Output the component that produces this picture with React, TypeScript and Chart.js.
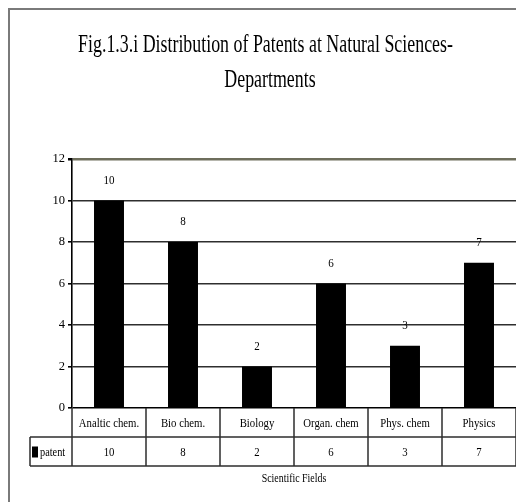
import React, { useEffect, useRef } from "react";
import { Chart, registerables } from "chart.js";

Chart.register(...registerables);

const categories = ["Analtic chem.", "Bio chem.", "Biology", "Organ. chem", "Phys. chem", "Physics"];
const patentValues = [10, 8, 2, 6, 3, 7];
const seriesName = "patent";
const yTicks = [0, 2, 4, 6, 8, 10, 12];
const titleLines = ["Fig.1.3.i Distribution of Patents at Natural Sciences-", "Departments"];
const xAxisTitle = "Scientific Fields";

const FONT = "'Liberation Serif', 'Times New Roman', serif";

function drawText(
  ctx: CanvasRenderingContext2D,
  text: string,
  x: number,
  y: number,
  size: number,
  sx: number,
  align: CanvasTextAlign = "center",
  baseline: CanvasTextBaseline = "middle"
) {
  ctx.save();
  ctx.font = `${size}px ${FONT}`;
  ctx.fillStyle = "#000";
  ctx.textAlign = align;
  ctx.textBaseline = baseline;
  ctx.translate(x, y);
  ctx.scale(sx, 1);
  ctx.fillText(text, 0, 0);
  ctx.restore();
}

const framePlugin = {
  id: "frameAndTitle",
  beforeDraw(chart: any) {
    const ctx = chart.ctx as CanvasRenderingContext2D;
    ctx.save();
    ctx.strokeStyle = "#7a7a7a";
    ctx.lineWidth = 2;
    ctx.strokeRect(9, 9, 700, 700);
    ctx.restore();
    drawText(ctx, titleLines[0], 265.5, 52, 25, 0.715, "center", "alphabetic");
    drawText(ctx, titleLines[1], 270, 87, 25, 0.715, "center", "alphabetic");
  },
};

const labelsAndTablePlugin = {
  id: "labelsAndTable",
  afterDraw(chart: any) {
    const ctx = chart.ctx as CanvasRenderingContext2D;
    const area = chart.chartArea;
    const xs = chart.scales.x;
    const ys = chart.scales.y;
    const n = categories.length;
    const colW = (area.right - area.left) / n;

    // value labels above bars
    const meta = chart.getDatasetMeta(0);
    meta.data.forEach((bar: any, i: number) => {
      const y = ys.getPixelForValue(patentValues[i]) - 20;
      drawText(ctx, String(patentValues[i]), bar.x, y, 13, 0.85);
    });

    // data table
    const top = area.bottom;
    const row1 = top + 29;
    const row2 = top + 58;
    const legendLeft = 30;
    ctx.save();
    ctx.strokeStyle = "#2e2e2e";
    ctx.lineWidth = 1.5;
    ctx.beginPath();
    ctx.moveTo(legendLeft, row1);
    ctx.lineTo(area.right + 2, row1);
    ctx.moveTo(legendLeft, row2);
    ctx.lineTo(area.right + 2, row2);
    ctx.moveTo(legendLeft, row1);
    ctx.lineTo(legendLeft, row2);
    for (let i = 0; i <= n; i++) {
      const x = Math.round(area.left + i * colW);
      ctx.moveTo(x, top);
      ctx.lineTo(x, row2);
    }
    ctx.stroke();
    ctx.restore();

    categories.forEach((c, i) => {
      const cx = xs.getPixelForValue(i);
      drawText(ctx, c, cx, (top + row1) / 2 + 1, 12.5, 0.86);
      drawText(ctx, String(patentValues[i]), cx, (row1 + row2) / 2 + 1, 12.5, 0.86);
    });

    // legend key
    ctx.save();
    ctx.fillStyle = "#000";
    ctx.fillRect(32, (row1 + row2) / 2 - 5, 6, 11);
    ctx.restore();
    drawText(ctx, seriesName, 40, (row1 + row2) / 2 + 1, 12, 0.86, "left");

    // axis title
    drawText(ctx, xAxisTitle, (area.left + area.right) / 2, row2 + 13, 11.5, 0.86);
  },
};

export default function App() {
  const ref = useRef<HTMLCanvasElement | null>(null);
  useEffect(() => {
    document.body.style.margin = "0";
    const canvas = ref.current!;
    const chart = new Chart(canvas, {
      type: "bar",
      data: {
        labels: categories,
        datasets: [
          {
            label: seriesName,
            data: patentValues,
            backgroundColor: "#000",
            borderWidth: 0,
            barPercentage: 0.405,
            categoryPercentage: 1,
          },
        ],
      },
      options: {
        animation: false,
        responsive: false,
        devicePixelRatio: 1,
        layout: { padding: { top: 159, left: 0, right: 0, bottom: 0 } },
        plugins: {
          legend: { display: false },
          title: { display: false },
          tooltip: { enabled: false },
        },
        scales: {
          x: {
            grid: { display: false },
            border: { display: false },
            ticks: { display: false },
            afterFit(scale: any) {
              scale.height = 94;
            },
          },
          y: {
            min: 0,
            max: 12,
            afterBuildTicks(scale: any) {
              scale.ticks = yTicks.map((v) => ({ value: v }));
            },
            afterFit(scale: any) {
              scale.width = 72;
            },
            grid: {
              color: (c: any) => (c.tick && c.tick.value === 12 ? "#6e6e5c" : c.tick && c.tick.value === 0 ? "#000" : "#2e2e2e"),
              lineWidth: (c: any) => (c.tick && c.tick.value === 12 ? 2.5 : 1.6),
              tickColor: "#000",
              tickLength: 4,
              drawTicks: true,
            },
            border: { display: true, color: "#000", width: 1.6 },
            ticks: {
              color: "#000",
              padding: 3,
              font: { family: "Liberation Serif", size: 12.5 },
            },
          },
        },
      },
      plugins: [framePlugin, labelsAndTablePlugin],
    });
    return () => chart.destroy();
  }, []);
  return (
    <div style={{ position: "fixed", left: 0, top: 0, width: 516, height: 502, background: "#fff" }}>
      <canvas ref={ref} width={516} height={502} style={{ display: "block", width: 516, height: 502 }} />
    </div>
  );
}
